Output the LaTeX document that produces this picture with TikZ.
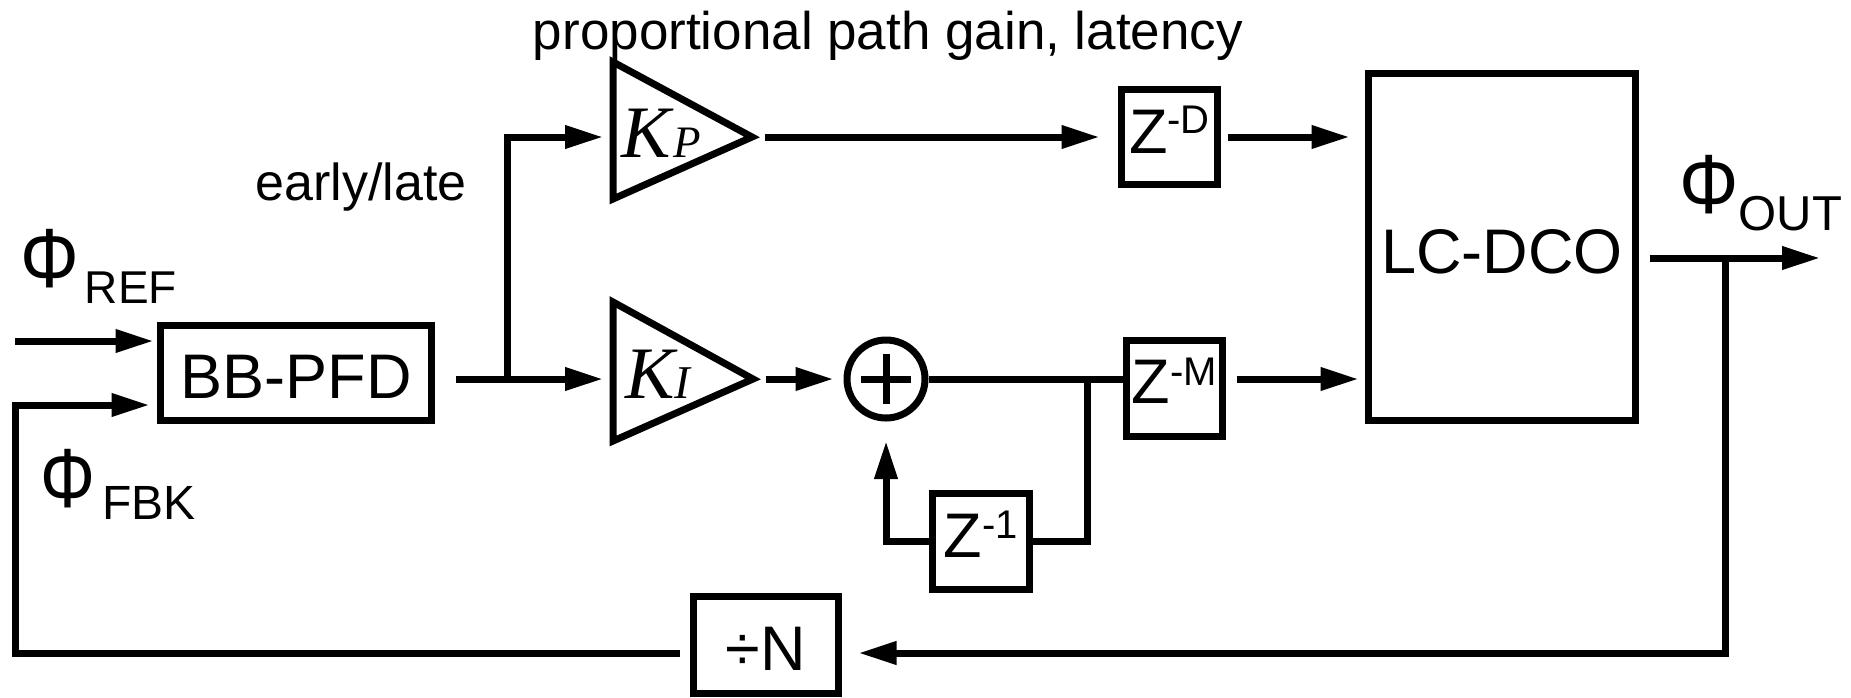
\documentclass[tikz,border=0pt]{standalone}
\usepackage{fontspec}
\setmainfont{Liberation Sans}
\newfontfamily\kfont{Liberation Serif}
\usetikzlibrary{arrows.meta,calc}
\newcommand{\fsz}[1]{\fontsize{#1}{#1}\selectfont}
\begin{document}
\begin{tikzpicture}[x=1pt,y=-1pt,
  box/.style={draw, line width=7pt, rectangle, inner sep=0pt, text depth=0pt},
  wire/.style={line width=7pt},
  arr/.style={line width=7pt, -{Triangle[length=38pt,width=22pt]}},
  tri/.style={line width=7pt, line join=miter},
  lbl/.style={inner sep=0pt, anchor=base}]
\useasboundingbox (0,0) rectangle (1851,697);

% blocks
\node[box, minimum width=271pt, minimum height=95pt, text height=50pt] (pfd) at (296,373) {\fsz{63}BB-PFD};
\node[box, minimum width=267pt, minimum height=347pt, text height=52pt] (dco) at (1502,247) {\fsz{63}LC-DCO};
\node[box, minimum width=96pt, minimum height=95pt, text height=32pt] (zd) at (1169.5,137) {\fsz{63}Z\raisebox{20pt}{\fsz{40}-D}};
\node[box, minimum width=96pt, minimum height=96pt, text height=29pt] (zm) at (1174.5,388.5) {\fsz{63}Z\raisebox{18pt}{\fsz{40}-M}};
\node[box, minimum width=97pt, minimum height=96pt, text height=31pt] (z1) at (981,541.5) {\fsz{63}Z\raisebox{19pt}{\fsz{40}-1}};
\node[box, minimum width=145pt, minimum height=97pt, text height=50pt] (divn) at (766,645) {\fsz{63}÷N};
\node[draw, circle, line width=7pt, minimum size=78pt, inner sep=0pt] (sum) at (886,379) {};
\draw[wire] ($(sum.center)+(-25,0)$) -- ($(sum.center)+(25,0)$);
\draw[wire] ($(sum.center)+(0,-25)$) -- ($(sum.center)+(0,25)$);

% gain triangles
\draw[tri] (613,62) -- (752,137) -- (613,199) -- cycle;
\coordinate (kpin) at (613,137);
\coordinate (kpout) at (755,137);
\node[lbl, anchor=base west] (kp) at (621,157) {\kfont\itshape\fsz{74}K\kern3pt\fsz{45}P};
\draw[tri] (613,302) -- (753,379) -- (613,441) -- cycle;
\coordinate (kiin) at (613,379);
\coordinate (kiout) at (757,379);
\node[lbl, anchor=base west] (ki) at (625,398) {\kfont\itshape\fsz{74}K\fsz{47}I};

% labels
\node[lbl] (title) at (888,49) {\fsz{53}proportional path gain, latency};
\node[lbl] (el) at (361,200) {\fsz{52}early/late};
\node[lbl, anchor=base west] (phiref) at (20,287) {\scalebox{0.92}[1.05]{\fsz{80}Φ}\hspace{6pt}\raisebox{-16pt}{\fsz{46}REF}};
\node[lbl, anchor=base west] (phifbk) at (40,507) {\scalebox{0.86}[1.05]{\fsz{80}Φ}\hspace{7pt}\raisebox{-12.5pt}{\fsz{48}FBK}};
\node[lbl, anchor=base west] (phiout) at (1679,213) {\scalebox{0.93}[1.05]{\fsz{80}Φ}\raisebox{-17pt}{\fsz{49}OUT}};

% connectors
\coordinate (j1) at (507,379);
\draw[wire, shorten <=20.5pt] (pfd.east |- j1) -- (j1);
\draw[arr, shorten >=10pt] (j1) -- (kiin);
\draw[arr, shorten >=10pt] (j1) |- (kpin);
\draw[arr, shorten <=10pt, shorten >=18.5pt] (kpout) -- (zd.west);
\draw[arr, shorten <=6.5pt, shorten >=15.5pt] (zd.east) -- (zd.east -| dco.west);
\draw[arr, shorten <=9pt, shorten >=10pt] (kiout) -- (sum.west);
\draw[wire] (sum.east) -- (sum.east -| zm.west);
\coordinate (j2) at (1087,379);
\draw[wire] (j2) |- (z1.east);
\draw[arr, shorten >=19.5pt] (z1.west) -| (sum.south);
\draw[arr, shorten <=10.5pt, shorten >=6.5pt] (zm.east |- sum) -- (sum -| dco.west);
\coordinate (j3) at (1725,258);
\coordinate (oe) at (1820,258);
\draw[arr, shorten <=10.5pt] (dco.east |- j3) -- (oe);
\coordinate (fbr) at (1725,653);
\draw[arr, shorten >=16.5pt] (j3) -- (fbr) -- (fbr -| divn.east);
\coordinate (fbl) at (15,653);
\coordinate (fbk) at (15,405);
\draw[arr, shorten <=10.5pt, shorten >=7.5pt] (fbr -| divn.west) -- (fbl) -- (fbk) -- (fbk -| pfd.west);
\coordinate (refin) at (15,341);
\draw[arr, shorten >=3.5pt] (refin) -- (refin -| pfd.west);
\end{tikzpicture}
\end{document}
